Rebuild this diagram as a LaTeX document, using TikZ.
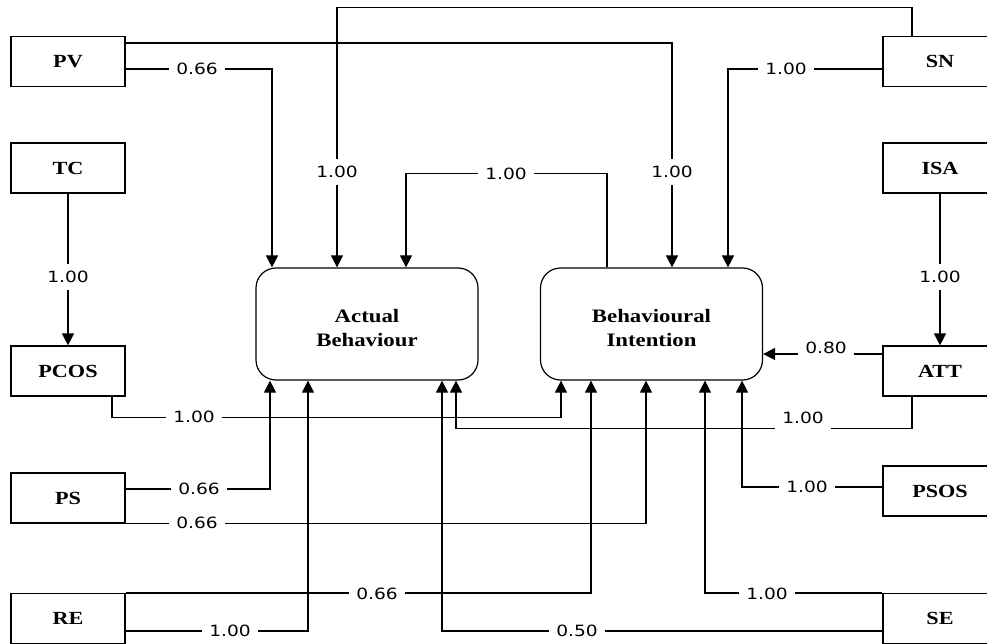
\documentclass[tikz,border=0pt]{standalone}
\usepackage{fontspec}
\usetikzlibrary{arrows.meta}
\newfontfamily\lblfont{DejaVu Sans}[FakeStretch=1.2]
\newfontfamily\boxfont{Liberation Serif}[FakeStretch=1.2]
\begin{document}
\begin{tikzpicture}[x=1pt,y=-1pt,
  box/.style={draw,line width=1.2pt,minimum width=114pt,minimum height=50pt,inner sep=0pt,
    font=\boxfont\bfseries\fontsize{18.5}{24}\selectfont},
  core/.style={draw,line width=1.2pt,rounded corners=20pt,minimum width=222pt,minimum height=112pt,
    align=center,inner sep=0pt,font=\boxfont\bfseries\fontsize{19}{24}\selectfont},
  conn/.style={line width=1.2pt},
  arr/.style={conn,-{Triangle[width=12pt,length=12pt]}},
  lbl/.style={fill=white,inner xsep=7pt,inner ysep=7pt,font=\lblfont\fontsize{15.5}{18}\selectfont}]
\useasboundingbox (0,0) rectangle (987,644);
% left boxes
\node[box] (PV) at (68,61.5) {PV};
\node[box] (TC) at (68,168) {TC};
\node[box] (PCOS) at (68,371) {PCOS};
\node[box] (PS) at (68,498) {PS};
\node[box] (RE) at (68,618.5) {RE};
% right boxes
\node[box] (SN) at (940,61.5) {SN};
\node[box] (ISA) at (940,168) {ISA};
\node[box] (ATT) at (940,371) {ATT};
\node[box] (PSOS) at (940,491) {PSOS};
\node[box] (SE) at (940,618.5) {SE};
% core boxes
\node[core] (AB) at (367,324) {};
\node[core] (BI) at (651.5,324) {};
\node[align=center,inner sep=0pt,font=\boxfont\bfseries\fontsize{19}{24}\selectfont] (ABt) at (367,328) {Actual\\Behaviour};
\node[align=center,inner sep=0pt,font=\boxfont\bfseries\fontsize{19}{24}\selectfont] (BIt) at (651.5,328) {Behavioural\\Intention};
% connectors
\draw[arr] ([yshift=18.5pt]PV.east) -| ([xshift=20.5pt]BI.north);
\draw[arr] ([yshift=-7.5pt]PV.east) -| ([xshift=-95pt]AB.north);
\draw[arr] ([xshift=-28pt]SN.north) -- ++(0,-28.5) -| ([xshift=-30pt]AB.north);
\draw[arr] ([yshift=-7.5pt]SN.west) -| ([xshift=76.5pt]BI.north);
\draw[arr] ([xshift=-44.5pt]BI.north) -- ++(0,-94) -| ([xshift=39pt]AB.north);
\draw[arr] (TC.south) -- (PCOS.north);
\draw[arr] (ISA.south) -- (ATT.north);
\draw[arr] ([yshift=17pt]ATT.west) -- ([yshift=-30pt]BI.east);
\draw[arr] ([xshift=-28pt]ATT.south) -- ++(0,32) -| ([xshift=89pt]AB.south);
\draw[arr] ([xshift=44pt]PCOS.south) -- ++(0,21) -| ([xshift=-90.5pt]BI.south);
\draw[arr] ([yshift=9pt]PS.east) -| ([xshift=-97pt]AB.south);
\draw[arr] (PS.south east) -| ([xshift=-5.5pt]BI.south);
\draw[arr] (RE.north east) -| ([xshift=-60.5pt]BI.south);
\draw[arr] ([yshift=-12.5pt]RE.east) -| ([xshift=-59pt]AB.south);
\draw[arr] ([yshift=4pt]PSOS.west) -| ([xshift=90.5pt]BI.south);
\draw[arr] (SE.north west) -| ([xshift=53.5pt]BI.south);
\draw[arr] ([yshift=-12.5pt]SE.west) -| ([xshift=75pt]AB.south);
% labels
\node[lbl] (l1) at (672,172) {1.00};
\node[lbl] (l2) at (197,69) {0.66};
\node[lbl] (l3) at (337,172) {1.00};
\node[lbl] (l4) at (786,69) {1.00};
\node[lbl] (l5) at (506,174) {1.00};
\node[lbl] (l6) at (68,277) {1.00};
\node[lbl] (l7) at (940,277) {1.00};
\node[lbl] (l8) at (826,348) {0.80};
\node[lbl] (l9) at (803,418) {1.00};
\node[lbl] (l10) at (194,417) {1.00};
\node[lbl] (l11) at (199,489) {0.66};
\node[lbl] (l12) at (197,523) {0.66};
\node[lbl] (l13) at (377,593.5) {0.66};
\node[lbl] (l14) at (230,631) {1.00};
\node[lbl] (l15) at (807,487) {1.00};
\node[lbl] (l16) at (767,593.5) {1.00};
\node[lbl] (l17) at (577,631) {0.50};
\end{tikzpicture}
\end{document}
